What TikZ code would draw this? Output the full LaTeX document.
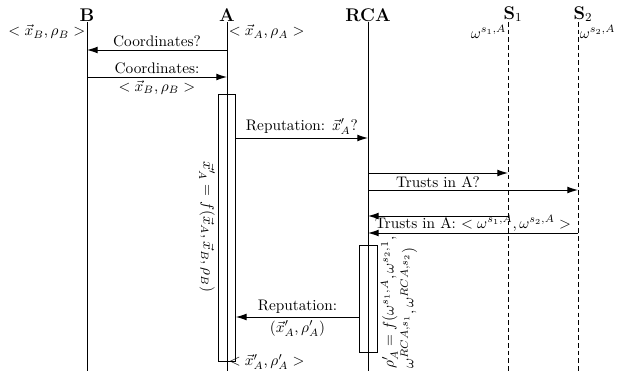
\documentclass[tikz,border=0pt]{standalone}
\usetikzlibrary{arrows.meta}
\begin{document}
\begin{tikzpicture}[x=0.654pt,y=-0.654pt,
  actor/.style={font=\large\bfseries, inner sep=1pt},
  life/.style={line width=0.6pt},
  dlife/.style={line width=0.6pt, dash pattern=on 3pt off 2pt},
  msg/.style={-{Latex[length=7pt,width=4.5pt]}, line width=0.6pt},
  actbox/.style={draw, line width=0.6pt, inner sep=0pt},
  lbl/.style={inner sep=1pt}]
\useasboundingbox (0,0) rectangle (618,371);
% actors
\node[actor] (B) at (87,15) {B};
\node[actor] (A) at (227,15) {A};
\node[actor] (RCA) at (368,15) {RCA};
\node[actor] (S1) at (513,14) {S$_1$};
\node[actor] (S2) at (583,14) {S$_2$};
% lifeline ends
\coordinate (Btop) at (87,22);   \coordinate (Bbot) at (87,371);
\coordinate (Atop) at (227,22);  \coordinate (Abot) at (227,371);
\coordinate (Rtop) at (368,22);  \coordinate (Rbot) at (368,371);
\coordinate (S1top) at (508,22); \coordinate (S1bot) at (508,371);
\coordinate (S2top) at (578,22); \coordinate (S2bot) at (578,371);
\draw[life] (Btop) -- (Bbot);
\draw[life] (Atop) -- (Abot);
\draw[life] (Rtop) -- (Rbot);
\draw[dlife] (S1top) -- (S1bot);
\draw[dlife] (S2top) -- (S2bot);
% state labels
\node[lbl, anchor=east] (xb) at (87,32) {$<\vec{x}_B,\rho_B>$};
\node[lbl, anchor=west] (xa) at (227,32) {$<\vec{x}_A,\rho_A>$};
\node[lbl, anchor=east] (w1) at (508,32) {$\omega^{s_1,A}$};
\node[lbl, anchor=west] (w2) at (578,32) {$\omega^{s_2,A}$};
% activation boxes
\node[actbox, anchor=north west, minimum width=11.1pt, minimum height=174.6pt] (boxA) at (218,94) {};
\node[actbox, anchor=north west, minimum width=11.8pt, minimum height=70pt] (boxR) at (359,245) {};
% messages
\draw[msg] (Atop |- 0,50) -- (Btop |- 0,50) node[midway, above, inner sep=2pt] {Coordinates?};
\draw[msg] (Btop |- 0,77) -- (Atop |- 0,77)
  node[midway, above, inner sep=2pt] {Coordinates:}
  node[midway, below, inner sep=2pt] {$<\vec{x}_B,\rho_B>$};
\draw[msg] (boxA.east |- 0,138) -- (Rtop |- 0,138) node[midway, above, inner sep=2pt] {Reputation: $\vec{x}'_A$?};
\draw[msg] (Rtop |- 0,173) -- (S1top |- 0,173) node[midway, below, inner sep=2pt] {Trusts in A?};
\draw[msg] (Rtop |- 0,190) -- (S2top |- 0,190);
\draw[msg] (S1top |- 0,216) -- (Rtop |- 0,216);
\draw[msg] (S2top |- 0,233) -- (Rtop |- 0,233) node[midway, above, inner sep=1pt] {Trusts in A: $<\omega^{s_1,A},\omega^{s_2,A}>$};
\draw[msg] (boxR.west |- 0,317) -- (boxA.east |- 0,317)
  node[midway, above, inner sep=2pt] {Reputation:}
  node[midway, below, inner sep=2pt] {$(\vec{x}'_A,\rho'_A)$};
% computations
\node[lbl, rotate=-90] (fA) at (207,227) {$\vec{x}'_A=f(\vec{x}_A,\vec{x}_B,\rho_B)$};
\node[lbl, rotate=90, anchor=west, align=left, inner sep=0pt] (fR) at (399,369)
  {$\rho'_A=f(\omega^{s_1,A},\omega^{s_2,1},$\\[1pt]$\omega^{RCA,s_1},\omega^{RCA,s_2})$};
\node[lbl, anchor=west] (xa2) at (227,362) {$<\vec{x}'_A,\rho'_A>$};
\end{tikzpicture}
\end{document}
